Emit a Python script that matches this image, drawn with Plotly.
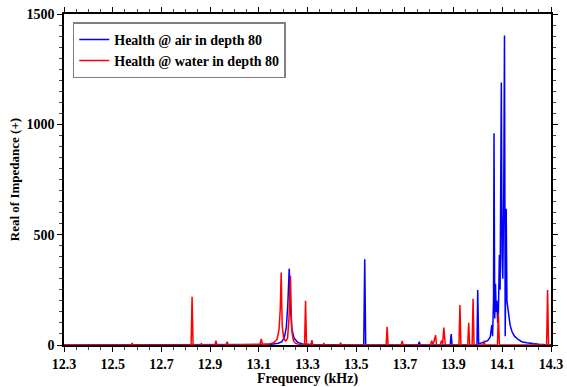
import plotly.graph_objects as go

# Red series: Health @ water in depth 80
freq_water = [12.300, 12.320, 12.340, 12.576, 12.580, 12.584, 12.700,
              12.822, 12.826, 12.830, 12.860, 12.864, 12.868,
              12.920, 12.924, 12.928, 12.966, 12.970, 12.974,
              13.050, 13.105, 13.110, 13.115, 13.140, 13.160, 13.175,
              13.183, 13.188, 13.192, 13.196, 13.202, 13.210, 13.218,
              13.224, 13.230, 13.235, 13.242, 13.250, 13.260, 13.280,
              13.288, 13.292, 13.296, 13.314, 13.318, 13.322,
              13.363, 13.367, 13.371, 13.432, 13.436, 13.440,
              13.500, 13.580, 13.623, 13.627, 13.631, 13.685, 13.689, 13.693,
              13.750, 13.805, 13.810, 13.814, 13.818, 13.822, 13.826, 13.830,
              13.845, 13.850, 13.855, 13.860, 13.866, 13.900,
              13.922, 13.926, 13.930, 13.958, 13.962, 13.966,
              13.976, 13.980, 13.984, 14.000, 14.021, 14.025, 14.029,
              14.080, 14.084, 14.088, 14.150, 14.226, 14.230, 14.234,
              14.282, 14.286, 14.290, 14.300]
real_water = [0, 0, 3, 0, 8, 0, 0,
              0, 219, 0, 0, 6, 0,
              0, 20, 0, 0, 15, 0,
              0, 3, 27, 3, 4, 10, 25,
              70, 160, 328, 90, 30, 18, 30,
              120, 314, 70, 20, 8, 4, 1,
              0, 200, 0, 0, 22, 0,
              0, 8, 0, 0, 10, 0,
              0, 0, 0, 83, 0, 0, 18, 0,
              0, 0, 20, 5, 10, 25, 45, 0,
              0, 20, 5, 79, 0, 0,
              0, 181, 0, 0, 101, 0,
              0, 210, 0, 0, 0, 20, 0,
              0, 144, 0, 0, 0, 5, 0,
              0, 249, 0, 0]

# Blue series: Health @ air in depth 80
freq_air = [12.300, 13.100, 13.150, 13.180, 13.195, 13.205, 13.213, 13.219,
            13.225, 13.230, 13.236, 13.245, 13.260, 13.280, 13.320, 13.500,
            13.531, 13.535, 13.539, 13.755, 13.759, 13.763,
            13.886, 13.890, 13.894, 13.996, 13.999, 14.003,
            14.010, 14.020, 14.030, 14.040, 14.050, 14.057, 14.060,
            14.064, 14.066, 14.069, 14.072, 14.075, 14.078, 14.081,
            14.084, 14.088, 14.091, 14.094, 14.096, 14.099, 14.102,
            14.106, 14.109, 14.112, 14.116, 14.119, 14.125, 14.132,
            14.140, 14.150, 14.165, 14.180, 14.200, 14.220, 14.250,
            14.280, 14.300]
real_air = [0, 0, 3, 8, 15, 35, 80, 180,
            346, 170, 70, 30, 12, 5, 2, 0,
            0, 389, 0, 0, 15, 0,
            0, 50, 0, 0, 249, 5,
            8, 10, 15, 20, 35, 90, 40,
            200, 960, 120, 277, 150, 200, 100,
            145, 408, 250, 600, 1190, 400, 300,
            700, 1403, 40, 617, 200, 150, 90,
            60, 40, 25, 15, 10, 6, 3,
            1, 0]

x_tick_vals = [12.3, 12.5, 12.7, 12.9, 13.1, 13.3, 13.5, 13.7, 13.9, 14.1, 14.3]
x_tick_text = ["12.3", "12.5", "12.7", "12.9", "13.1", "13.3", "13.5", "13.7", "13.9", "14.1", "14.3"]
y_tick_vals = [0, 500, 1000, 1500]
y_tick_text = ["0", "500", "1000", "1500"]

FONT = "Liberation Serif"

fig = go.Figure()
fig.add_trace(go.Scatter(x=freq_air, y=real_air, mode="lines",
                         name="Health @ air in depth 80",
                         line=dict(color="#0000ff", width=1.5)))
fig.add_trace(go.Scatter(x=freq_water, y=real_water, mode="lines",
                         name="Health @ water in depth 80",
                         line=dict(color="#ff0000", width=1.5)))

axis_common = dict(
    showline=True, linecolor="black", linewidth=1.5, mirror="ticks",
    ticks="outside", ticklen=5, tickwidth=1.2, tickcolor="black",
    showgrid=False, zeroline=False, layer="below traces", automargin=False,
    tickfont=dict(family=FONT, size=14, color="black", weight="bold"),
)

fig.update_xaxes(
    range=[12.3, 14.3], tickvals=x_tick_vals, ticktext=x_tick_text,
    minor=dict(ticks="outside", dtick=0.05, tick0=12.3, ticklen=3,
               tickcolor="#444444", tickwidth=1),
    title=dict(text="Frequency (kHz)", standoff=2,
               font=dict(family=FONT, size=14, color="black", weight="bold")),
    **axis_common)
fig.update_yaxes(
    range=[0, 1500], tickvals=y_tick_vals, ticktext=y_tick_text,
    minor=dict(ticks="outside", dtick=50, tick0=0, ticklen=3,
               tickcolor="#444444", tickwidth=1),
    title=dict(text="Real of Impedance (+)", standoff=4,
               font=dict(family=FONT, size=13, color="black", weight="bold")),
    **axis_common)

fig.update_layout(
    width=567, height=387,
    margin=dict(l=64, r=16, t=14, b=42),
    paper_bgcolor="white", plot_bgcolor="white",
    showlegend=True,
    legend=dict(x=0.018, y=0.975, xanchor="left", yanchor="top",
                bgcolor="white", bordercolor="#808080", borderwidth=1.5,
                font=dict(family=FONT, size=14, color="black", weight="bold"),
                itemwidth=30, tracegroupgap=0),
)

fig.write_html("out.html")
